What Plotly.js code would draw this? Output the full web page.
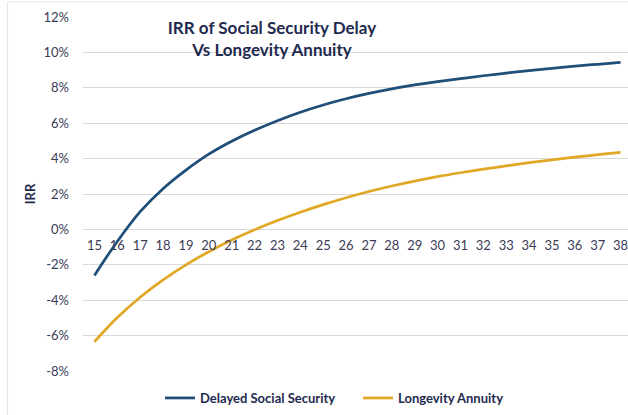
<!DOCTYPE html>
<html>
<head>
<meta charset="utf-8">
<script src="https://cdn.plot.ly/plotly-3.0.1.min.js"></script>
<style>
html,body{margin:0;padding:0;overflow:hidden;background:#fff;}
#chart{width:636px;height:415px;}
</style>
</head>
<body>
<div id="chart"></div>
<script>
const years = ['15','16','17','18','19','20','21','22','23','24','25','26','27','28','29','30','31','32','33','34','35','36','37','38'];
const delayedSS = [-2.6,-0.68,1.0,2.3,3.35,4.25,4.98,5.6,6.14,6.62,7.03,7.38,7.68,7.94,8.16,8.35,8.52,8.68,8.83,8.97,9.1,9.22,9.33,9.43];
const longevity = [-6.35,-4.98,-3.83,-2.85,-2.0,-1.26,-0.6,-0.02,0.5,0.97,1.4,1.79,2.14,2.45,2.73,2.98,3.2,3.4,3.59,3.77,3.93,4.08,4.22,4.35];
const yTicks = [-8,-6,-4,-2,0,2,4,6,8,10,12];
const yTickText = yTicks.map(v => v + '%');

const navy = '#1f2a4f';
const font = 'Lato, "Open Sans", sans-serif';

const traces = [
  {x: years, y: delayedSS, type: 'scatter', mode: 'lines', name: 'Delayed Social Security',
   line: {color: '#1f4e79', width: 2.75, shape: 'spline', smoothing: 1}},
  {x: years, y: longevity, type: 'scatter', mode: 'lines', name: 'Longevity Annuity',
   line: {color: '#e0a825', width: 2.75, shape: 'spline', smoothing: 1}}
];

const layout = {
  width: 636, height: 415,
  margin: {l: 82.5, r: 4, t: 17, b: 44},
  paper_bgcolor: '#fff', plot_bgcolor: '#fff',
  font: {family: font, color: '#3b3b55', size: 13},
  title: {
    text: '<b>IRR of Social Security Delay<br>Vs Longevity Annuity</b>',
    font: {family: font, size: 17, color: navy},
    xref: 'container', x: 272/636, xanchor: 'center',
    yref: 'container', y: 1 - 34/415, yanchor: 'middle'
  },
  xaxis: {
    type: 'category', range: [-0.5, 23.5],
    anchor: 'free', position: 0.4,
    showgrid: false, zeroline: false, showline: false, ticks: '',
    ticklabelstandoff: 7,
    tickfont: {family: font, size: 13, color: '#3b3b55'},
    fixedrange: true
  },
  yaxis: {
    range: [-8, 12], tickvals: yTicks, ticktext: yTickText,
    showgrid: true, gridcolor: '#d9d9d9', gridwidth: 1,
    zeroline: false, showline: false, ticks: '',
    ticklabelstandoff: 13,
    tickfont: {family: font, size: 13, color: '#3b3b55'},
    title: {text: '<b>IRR</b>', font: {family: font, size: 13, color: navy}, standoff: 4},
    fixedrange: true
  },
  showlegend: true,
  legend: {
    orientation: 'h', xref: 'container', yref: 'container',
    x: 160/636, xanchor: 'left', y: 1 - 398/415, yanchor: 'middle',
    font: {family: font, size: 13, color: navy, weight: 'bold'},
    itemwidth: 30, entrywidth: 153, entrywidthmode: 'pixels',
    bgcolor: 'rgba(0,0,0,0)'
  },
  shapes: [{
    type: 'rect', xref: 'paper', yref: 'paper', layer: 'below',
    x0: (7 - 82.5)/549.6, x1: 1.3, y0: -0.3, y1: 1 + 15/354,
    line: {color: '#e3e3e3', width: 1}, fillcolor: 'rgba(0,0,0,0)'
  }]
};

Plotly.newPlot('chart', traces, layout, {displayModeBar: false, staticPlot: true});
</script>
</body>
</html>
